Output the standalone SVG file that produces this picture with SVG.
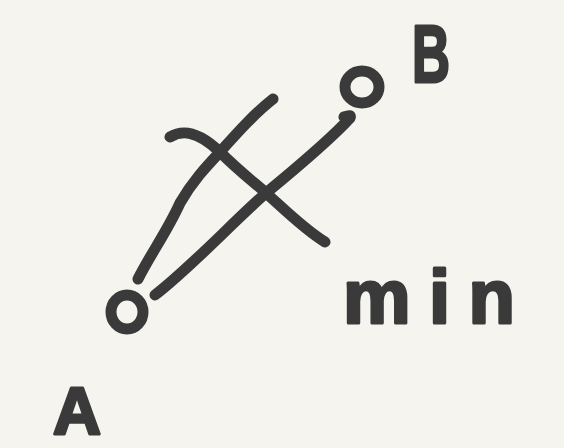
<svg xmlns="http://www.w3.org/2000/svg" width="564" height="448" viewBox="0 0 564 448">
<style>
.ink{fill:none;stroke:#3a3a3a;stroke-width:11;stroke-linecap:round;stroke-linejoin:round}
.lbl{font-family:"Liberation Sans",Arial,sans-serif;font-weight:bold;fill:#3a3a3a;stroke:#3a3a3a;stroke-width:3;stroke-linejoin:round}
</style>
<rect width="564" height="448" fill="#f6f4ee"/>
<g id="connectors">
<path class="ink" d="M155,295 C190,268 230,225 266,193 C300,165 330,140 350,118 Q352,114 344,117"/>
<path class="ink" d="M138,279 C150,255 168,230 180,203 C192,182 205,168 220,152 C238,132 255,113 273,99"/>
<path class="ink" d="M170,137 C180,131 195,128 220,152 C240,172 255,183 266,193 C285,210 305,230 325,242"/>
</g>
<g id="node-A">
<ellipse class="ink" cx="127" cy="312" rx="16" ry="17"/>
<text class="lbl" x="53" y="434" font-size="66" textLength="48" lengthAdjust="spacingAndGlyphs">A</text>
</g>
<g id="node-B">
<ellipse class="ink" cx="362" cy="87" rx="17" ry="16"/>
<text class="lbl" x="412" y="82" font-size="82" textLength="38" lengthAdjust="spacingAndGlyphs">B</text>
</g>
<g id="label-min">
<text class="lbl" x="343" y="323" font-size="76" textLength="172" lengthAdjust="spacing">min</text>
</g>
</svg>
